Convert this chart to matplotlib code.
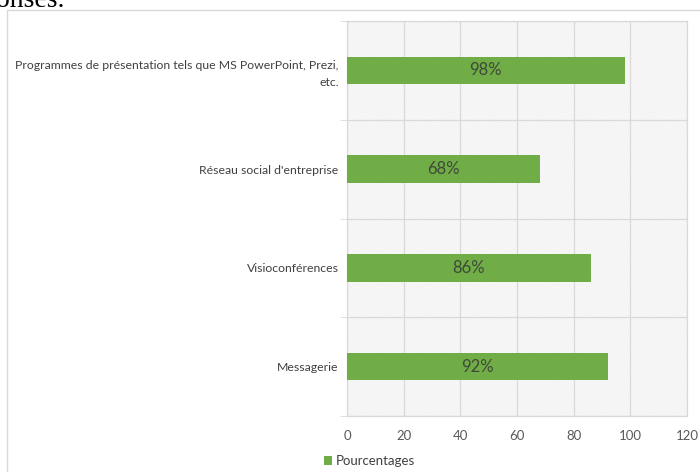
import matplotlib
matplotlib.use("Agg")
import matplotlib.pyplot as plt
from matplotlib.patches import Rectangle

categories = ["Programmes de présentation tels que MS PowerPoint, Prezi,\netc.",
              "Réseau social d'entreprise",
              "Visioconférences",
              "Messagerie"]
values = [98, 68, 86, 92]
labels = ["98%", "68%", "86%", "92%"]
xticks = [0, 20, 40, 60, 80, 100, 120]
legend_label = "Pourcentages"

plt.rcParams['font.family'] = ['Lato', 'DejaVu Sans']
plt.rcParams['hatch.linewidth'] = 0.5
plt.rcParams['hatch.color'] = '#e8e8e8'

fig = plt.figure(figsize=(7.0, 4.72), dpi=100)
fig.patch.set_facecolor('white')

# outer chart border
fig.add_artist(Rectangle((7/700, -0.1), 1.2, 1 - 10/472 + 0.1, transform=fig.transFigure,
                         fill=False, edgecolor='#d9d9d9', linewidth=1.0, zorder=0))
fig.text(-0.006, 1 - 7/472, "onses.", family='Liberation Serif', fontsize=20, va='baseline', ha='left', color='black')

ax = fig.add_axes([347/700, 1 - 416/472, (687 - 347)/700, (416 - 21)/472])
ax.set_facecolor('white')
ax.add_patch(Rectangle((0, 0), 1, 1, transform=ax.transAxes, facecolor='white',
                       edgecolor='#e8e8e8', hatch='\\' * 14, linewidth=0, zorder=0))

y = list(range(len(categories)))
bars = ax.barh(y, values, height=0.28, color='#70AD47', zorder=3, label=legend_label)
for yi, v, lab in zip(y, values, labels):
    ax.text(v / 2, yi, lab, ha='center', va='center', fontsize=12, color='#3f4a38', zorder=4)

ax.set_xlim(0, 120)
ax.set_ylim(3.5, -0.5)
ax.set_xticks(xticks)
ax.set_xticklabels([str(t) for t in xticks], fontsize=9.5, color='#595959')
ax.set_yticks(y)
ax.set_yticklabels(categories, fontsize=8.8, color='#404040', linespacing=1.6)
ax.set_yticks([-0.5, 0.5, 1.5, 2.5, 3.5], minor=True)
ax.tick_params(axis='y', which='major', length=0, pad=6)
ax.tick_params(axis='y', which='minor', length=5, color='#d9d9d9', direction='out')
ax.tick_params(axis='x', length=0, pad=10)
ax.grid(axis='x', color='#d9d9d9', linewidth=0.9, zorder=1)
ax.grid(axis='y', which='minor', color='#d9d9d9', linewidth=0.9, zorder=1)
ax.set_axisbelow(True)
for s in ax.spines.values():
    s.set_color('#d9d9d9')
    s.set_linewidth(0.9)

fig.legend(handles=[bars], labels=[legend_label], loc='center left',
           bbox_to_anchor=(312/700, 1 - 461/472), frameon=False, fontsize=9.5,
           handlelength=0.6, handleheight=0.6, handletextpad=0.3, labelcolor='#404040')

fig.savefig("out.png", dpi=100)
